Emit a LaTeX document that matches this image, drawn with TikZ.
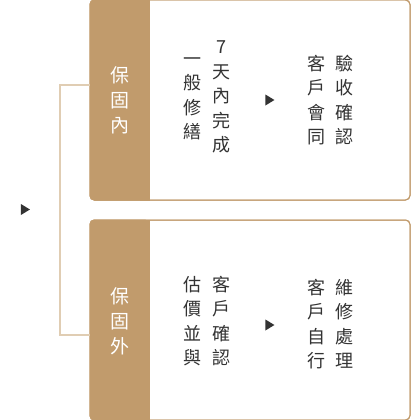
\documentclass[tikz,border=0pt]{standalone}
\usepackage{fontspec}
\usepackage{xcolor}
\usepackage{tikz}
\usetikzlibrary{shapes.geometric}
\newfontfamily\cjk{Noto Sans CJK TC}
\definecolor{headtan}{HTML}{C19B6C}
\definecolor{linetan}{HTML}{E0CDB3}
\definecolor{inkgray}{HTML}{333333}

\begin{document}
\begin{tikzpicture}[x=1pt, y=-1pt,
			card/.style={rectangle, rounded corners=4.5pt, draw=headtan, line width=1pt, minimum width=320pt, minimum height=200pt, inner sep=0pt},
			head/.style={text=white, align=center, inner sep=0pt, font=\cjk\fontsize{19pt}{25pt}\selectfont},
			col/.style={text=inkgray, align=center, inner sep=0pt, font=\cjk\fontsize{18pt}{24.5pt}\selectfont},
			pointer/.style={isosceles triangle, isosceles triangle stretches, fill=inkgray, minimum width=11pt, minimum height=9pt, inner sep=0pt},
			bracket/.style={draw=linetan, line width=1.6pt}
		]
		\useasboundingbox (0,0) rectangle (419,420);
		%\node[card] (card0) at (250,100) {};
		\node[card, fill=white] (card1) at (250,100) {};
		\node[card, fill=white] (card2) at (250,320) {};

		% tan header strips
		\fill[headtan, rounded corners=4.5pt] (card1.north west) rectangle ([xshift=60pt]card1.south west);
		\fill[headtan] ([xshift=50pt]card1.north west) rectangle ([xshift=60pt]card1.south west);
		\fill[headtan, rounded corners=4.5pt] (card2.north west) rectangle ([xshift=60pt]card2.south west);
		\fill[headtan] ([xshift=50pt]card2.north west) rectangle ([xshift=60pt]card2.south west);
		\node[card] at (card1) {};
		\node[card] at (card2) {};

		\node[head] (h1) at (120,100) {保\\固\\內};
		\node[head] (h2) at (120,321) {保\\固\\外};

		\node[col] (c1a) at (192,99) {一\\般\\修\\繕};
		\node[col] (c1b) at (221,97) {7\\天\\內\\完\\成};
		\node[col] (c1c) at (316,100) {客\\戶\\會\\同};
		\node[col] (c1d) at (344,100) {驗\\收\\確\\認};

		\node[col] (c2a) at (192,321) {估\\價\\並\\與};
		\node[col] (c2b) at (221,321) {客\\戶\\確\\認};
		\node[col] (c2c) at (316,324) {客\\戶\\自\\行};
		\node[col] (c2d) at (344,324) {維\\修\\處\\理};

		\node[pointer] (p0) at (24,209.5) {};
		\node[pointer] (p1) at (268.5,100) {};
		\node[pointer] (p2) at (268.5,325) {};

		\coordinate (bar) at (60,210);
		\draw[bracket] ([yshift=15pt]card1.west) -| (bar) |- ([yshift=-15pt]card2.west);
		;
		\end{tikzpicture}
\end{document}
